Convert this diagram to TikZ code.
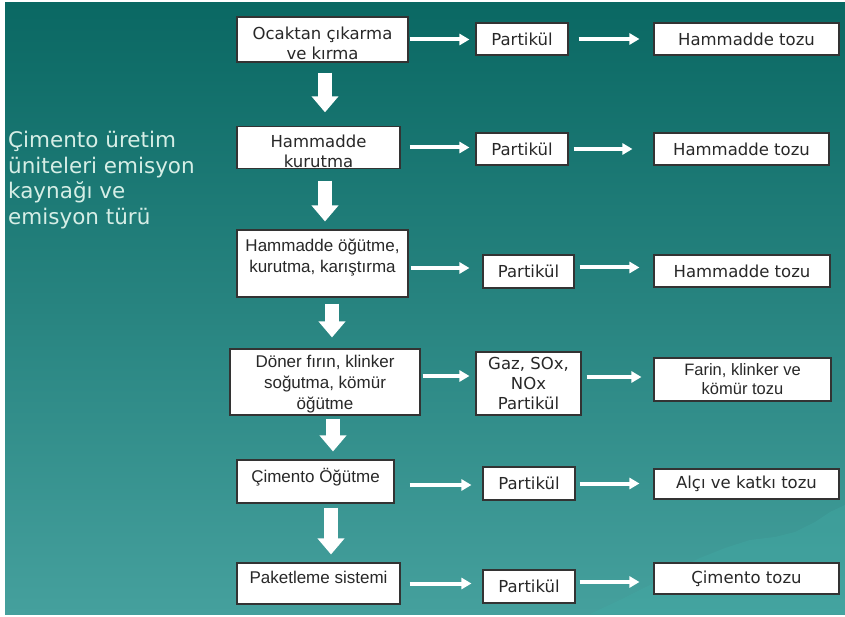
\documentclass[tikz,border=0pt]{standalone}
\usepackage{fontspec}
\setmainfont{Liberation Sans}
\newfontfamily\widefont{DejaVu Sans}
\usepackage{tikz}
\definecolor{slidetop}{RGB}{10,104,99}
\definecolor{slidebottom}{RGB}{69,160,157}
\definecolor{hill}{RGB}{66,172,166}
\definecolor{titlemint}{RGB}{214,238,230}
\definecolor{boxtext}{RGB}{40,40,40}
\usetikzlibrary{arrows.meta,calc}
\tikzstyle{block} = [rectangle, draw=black!80, line width=1.1pt, fill=white,
    text=boxtext, inner sep=0pt, align=center,
    font=\fontsize{17}{21}\selectfont]
\tikzstyle{wideblock} = [block, font=\widefont\fontsize{16.5}{20}\selectfont]
\tikzstyle{title} = [anchor=north west, align=left, inner sep=0pt,
    text=titlemint, font=\widefont\fontsize{21.5}{25.5}\selectfont]
\tikzstyle{line} = [draw=white, line width=4pt, -{Triangle[length=10pt,width=11pt]}]
\tikzstyle{down} = [draw=white, line width=14pt, -{Triangle[length=16pt,width=26pt]}]

\begin{document}
\begin{tikzpicture}[x=1pt, y=-1pt]
  % slide background
  \fill[white] (0,0) rectangle (845,617);
  \fill[top color=slidetop, bottom color=slidebottom] (5,3) rectangle (845,614);
  \fill[hill, opacity=0.35] (590,614) -- (620,600) -- (650,585) -- (680,568) -- (700,558)
    -- (725,548) -- (750,540) -- (775,537) -- (795,532) -- (815,522) -- (830,512)
    -- (845,505) -- (845,614) -- cycle;
  \node [title] (baslik) at (8,131) {Çimento üretim\\üniteleri emisyon\\kaynağı ve\\emisyon türü};

  % 1
  \node [wideblock, minimum width=171pt, minimum height=45pt] (ocak) at (322.5,39.5) {\rule{0pt}{20pt}Ocaktan çıkarma\\ve kırma};
  \node [wideblock, minimum width=92pt, minimum height=32pt] (partikul1) at (522,39) {Partikül};
  \node [wideblock, minimum width=185pt, minimum height=32pt] (toz1) at (746.5,39) {Hammadde tozu};
  \path [line, shorten <=1pt, shorten >=6pt] (ocak.east) -- (ocak.east -| partikul1.west);
  \path [line, shorten <=10pt, shorten >=14pt] (partikul1.east) -- (toz1.west);
  % 2
  \node [wideblock, minimum width=163pt, minimum height=41pt] (kurutma) at (318.5,147.5) {\rule{0pt}{21pt}Hammadde\\kurutma};
  \node [wideblock, minimum width=92pt, minimum height=32pt] (partikul2) at (522,149) {Partikül};
  \node [wideblock, minimum width=175pt, minimum height=32pt] (toz2) at (741.5,149) {Hammadde tozu};
  \path [line, shorten <=9pt, shorten >=6pt] (kurutma.east) -- (kurutma.east -| partikul2.west);
  \path [line, shorten <=5pt, shorten >=21pt] (partikul2.east) -- (toz2.west);
  \path [down, shorten <=10pt, shorten >=14pt] ($(ocak.south)+(2.5,0)$) -- ($(ocak.south |- kurutma.north)+(2.5,0)$);
  % 3
  \node [block, minimum width=171pt, minimum height=67pt] (ogutme) at (322.5,263.5) {Hammadde öğütme,\\kurutma, karıştırma\rule[-16pt]{0pt}{16pt}};
  \node [wideblock, minimum width=91pt, minimum height=33pt] (partikul3) at (528.5,271.5) {Partikül};
  \node [wideblock, minimum width=176pt, minimum height=32pt] (toz3) at (742,271) {Hammadde tozu};
  \path [line, shorten <=2pt, shorten >=13pt] ($(ogutme.east)+(0,4.5)$) -- ($(ogutme.east -| partikul3.west)+(0,4.5)$);
  \path [line, shorten <=5pt, shorten >=14pt] ($(partikul3.east)+(0,-4)$) -- ($(partikul3.east -| toz3.west)+(0,-4)$);
  \path [down, shorten <=12pt, shorten >=8pt] ($(kurutma.south)+(6.5,0)$) -- ($(kurutma.south |- ogutme.north)+(6.5,0)$);
  % 4
  \node [block, minimum width=190pt, minimum height=66pt] (firin) at (325,382) {\rule{0pt}{17pt}Döner fırın, klinker\\soğutma, kömür\\öğütme};
  \node [wideblock, minimum width=105pt, minimum height=63pt] (gaz) at (528.5,383.5) {Gaz, SOx,\\NOx\\Partikül};
  \node [block, minimum width=177pt, minimum height=43pt, font=\fontsize{16.5}{19}\selectfont] (toz4) at (742.5,379.5) {Farin, klinker ve\\kömür tozu};
  \path [line, shorten <=2pt, shorten >=6pt] ($(firin.east)+(0,-6)$) -- ($(firin.east -| gaz.west)+(0,-6)$);
  \path [line, shorten <=5pt, shorten >=12pt] ($(gaz.east)+(0,-6.5)$) -- ($(gaz.east -| toz4.west)+(0,-6.5)$);
  \path [down, shorten <=6pt, shorten >=11pt] ($(ogutme.south)+(9.5,0)$) -- ($(ogutme.south |- firin.north)+(9.5,0)$);
  % 5
  \node [block, minimum width=157pt, minimum height=43pt] (cimento) at (315.5,481.5) {Çimento Öğütme\rule[-12.5pt]{0pt}{12.5pt}};
  \node [wideblock, minimum width=92pt, minimum height=33pt] (partikul5) at (529,483.5) {Partikül};
  \node [wideblock, minimum width=185pt, minimum height=30pt] (toz5) at (746.5,484) {Alçı ve katkı tozu};
  \path [line, shorten <=15pt, shorten >=11pt] ($(cimento.east)+(0,3.5)$) -- ($(cimento.east -| partikul5.west)+(0,3.5)$);
  \path [line, shorten <=4pt, shorten >=14pt] (partikul5.east) -- (partikul5.east -| toz5.west);
  \path [down, shorten <=3pt, shorten >=8pt] ($(firin.south)+(8,0)$) -- ($(firin.south |- cimento.north)+(8,0)$);
  % 6
  \node [block, minimum width=163pt, minimum height=41pt] (paket) at (318.5,583.5) {Paketleme sistemi\rule[-12.5pt]{0pt}{12.5pt}};
  \node [wideblock, minimum width=92pt, minimum height=33pt] (partikul6) at (529,586.5) {Partikül};
  \node [wideblock, minimum width=185pt, minimum height=31pt] (toz6) at (746.5,578.5) {Çimento tozu};
  \path [line, shorten <=9pt, shorten >=11pt] (paket.east) -- (paket.east -| partikul6.west);
  \path [line, shorten <=4pt, shorten >=14pt] ($(partikul6.east)+(0,-4.5)$) -- ($(partikul6.east -| toz6.west)+(0,-4.5)$);
  \path [down, shorten <=4pt, shorten >=8pt] ($(cimento.south)+(15.5,0)$) -- ($(cimento.south |- paket.north)+(15.5,0)$);
\end{tikzpicture}
\end{document}
